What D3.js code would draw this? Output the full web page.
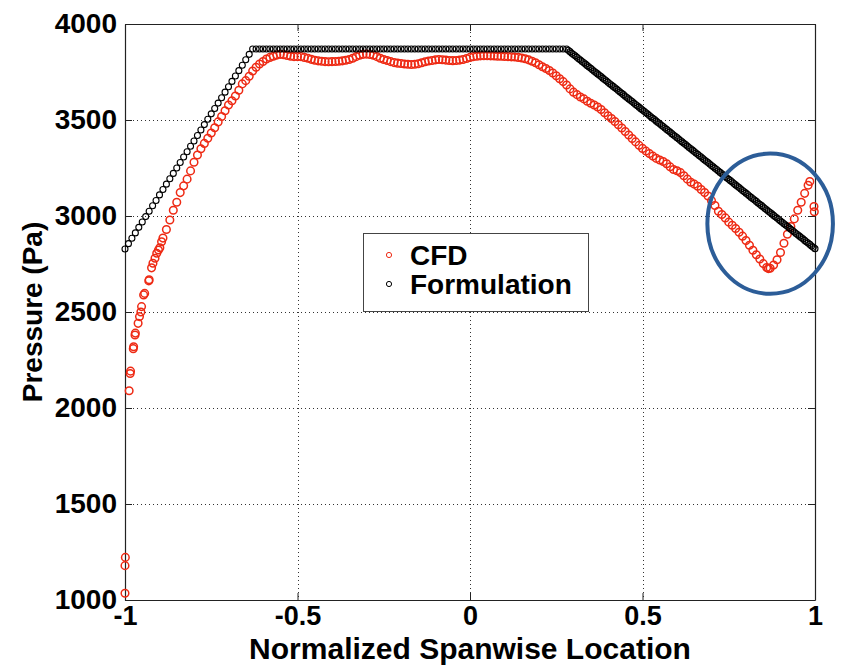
<!DOCTYPE html>
<html><head><meta charset="utf-8">
<script src="https://cdn.jsdelivr.net/npm/d3@7"></script>
<style>
body{margin:0;background:#fff}
svg{display:block}
text{font-family:"Liberation Sans",Arial,sans-serif;font-weight:bold;fill:#000}
</style>
</head><body>
<svg id="chart" width="843" height="666"></svg>
<script>
// ---------- data ----------
const xTicks = [-1, -0.5, 0, 0.5, 1];
const xTickLabels = ["-1", "-0.5", "0", "0.5", "1"];
const yTicks = [1000, 1500, 2000, 2500, 3000, 3500, 4000];
const yTickLabels = ["1000", "1500", "2000", "2500", "3000", "3500", "4000"];
const seriesNames = ["CFD", "Formulation"];
const xTitle = "Normalized Spanwise Location";
const yTitle = "Pressure (Pa)";

// Formulation, left part: x = -1 .. 0.28 every 0.01
const formLeftStart = -1, formLeftStep = 0.01;
const formLeftP = [
 2828,2856,2884,2912,2941,2969,2997,3025,3053,3081,
 3110,3138,3166,3194,3222,3250,3279,3307,3335,3363,
 3391,3419,3448,3476,3504,3532,3560,3588,3616,3645,
 3673,3701,3729,3757,3785,3814,3842,
 3870,3870,3870,3870,3870,3870,3870,3870,3870,3870,
 3870,3870,3870,3870,3870,3870,3870,3870,3870,3870,
 3870,3870,3870,3870,3870,3870,3870,3870,3870,3870,
 3870,3870,3870,3870,3870,3870,3870,3870,3870,3870,
 3870,3870,3870,3870,3870,3870,3870,3870,3870,3870,
 3870,3870,3870,3870,3870,3870,3870,3870,3870,3870,
 3870,3870,3870,3870,3870,3870,3870,3870,3870,3870,
 3870,3870,3870,3870,3870,3870,3870,3870,3870,3870,
 3870,3870,3870,3870,3870,3870,3870,3870,3870,3870,
 3870,3870
];
// Formulation, right part: x = 0.285 .. 1 every 0.005
const formRightStart = 0.285, formRightStep = 0.005;
const formRightP = [
 3863,3856,3848,3841,3834,3827,3819,3812,3805,3798,
 3791,3783,3776,3769,3762,3754,3747,3740,3733,3726,
 3718,3711,3704,3697,3689,3682,3675,3668,3661,3653,
 3646,3639,3632,3624,3617,3610,3603,3596,3588,3581,
 3574,3567,3559,3552,3545,3538,3531,3523,3516,3509,
 3502,3494,3487,3480,3473,3466,3458,3451,3444,3437,
 3429,3422,3415,3408,3401,3393,3386,3379,3372,3364,
 3357,3350,3343,3336,3328,3321,3314,3307,3299,3292,
 3285,3278,3271,3263,3256,3249,3242,3234,3227,3220,
 3213,3206,3198,3191,3184,3177,3169,3162,3155,3148,
 3141,3133,3126,3119,3112,3104,3097,3090,3083,3076,
 3068,3061,3054,3047,3039,3032,3025,3018,3011,3003,
 2996,2989,2982,2974,2967,2960,2953,2946,2938,2931,
 2924,2917,2909,2902,2895,2888,2881,2873,2866,2859,
 2852,2844,2837,2830
];

// CFD samples
const cfdX = [
 -1.000,-1.000,-0.999,-0.988,-0.985,-0.984,-0.976,-0.975,-0.971,-0.970,
 -0.962,-0.958,-0.954,-0.952,-0.946,-0.943,-0.931,-0.930,-0.923,-0.919,
 -0.913,-0.908,-0.903,-0.899,-0.894,
 -0.89,-0.88,-0.87,-0.86,-0.85,-0.84,-0.83,-0.82,-0.81,-0.80,
 -0.79,-0.78,-0.77,-0.76,-0.75,-0.74,-0.73,-0.72,-0.71,-0.70,
 -0.69,-0.68,-0.67,-0.66,-0.65,-0.64,-0.63,-0.62,-0.61,-0.60,
 -0.59,-0.58,-0.57,-0.56,-0.55,-0.54,-0.53,-0.52,-0.51,-0.50,
 -0.49,-0.48,-0.47,-0.46,-0.45,-0.44,-0.43,-0.42,-0.41,-0.40,
 -0.39,-0.38,-0.37,-0.36,-0.35,-0.34,-0.33,-0.32,-0.31,-0.30,
 -0.29,-0.28,-0.27,-0.26,-0.25,-0.24,-0.23,-0.22,-0.21,-0.20,
 -0.19,-0.18,-0.17,-0.16,-0.15,-0.14,-0.13,-0.12,-0.11,-0.10,
 -0.09,-0.08,-0.07,-0.06,-0.05,-0.04,-0.03,-0.02,-0.01,0.00,
 0.01,0.02,0.03,0.04,0.05,0.06,0.07,0.08,0.09,0.10,
 0.11,0.12,0.13,0.14,0.15,0.16,0.17,0.18,0.19,0.20,
 0.21,0.22,0.23,0.24,0.25,0.26,0.27,0.28,0.29,0.30,
 0.31,0.32,0.33,0.34,0.35,0.36,0.37,0.38,0.39,0.40,
 0.41,0.42,0.43,0.44,0.45,0.46,0.47,0.48,0.49,0.50,
 0.51,0.52,0.53,0.54,0.55,0.56,0.57,0.58,0.59,0.60,
 0.61,0.62,0.63,0.64,0.65,0.66,0.67,0.68,0.69,0.70,
 0.71,0.72,0.73,0.74,0.75,0.76,0.77,0.78,0.79,0.80,
 0.81,0.82,0.83,0.84,0.85,0.86,0.865,0.87,0.88,0.89,
 0.90,0.91,0.92,0.93,0.94,0.95,0.96,0.97,0.98,0.985,
 0.997,0.998
];
const cfdP = [
 1035,1179,1222,2090,2180,2192,2309,2319,2380,2390,
 2441,2476,2500,2528,2589,2597,2662,2668,2730,2754,
 2780,2806,2823,2835,2866,
 2885,2930,2979,3030,3072,3122,3157,3192,3235,3280,
 3318,3350,3378,3405,3432,3460,3490,3518,3548,3578,
 3600,3625,3655,3688,3705,3728,3755,3775,3792,3805,
 3818,3826,3832,3838,3842,3840,3836,3832,3830,3830,
 3830,3826,3822,3816,3811,3808,3806,3804,3803,3804,
 3805,3806,3808,3811,3815,3822,3830,3837,3842,3843,
 3841,3837,3830,3822,3815,3810,3804,3799,3796,3794,
 3792,3790,3789,3790,3793,3798,3803,3807,3810,3813,
 3815,3814,3812,3810,3809,3810,3812,3815,3820,3826,
 3830,3832,3834,3835,3835,3834,3833,3832,3832,3831,
 3830,3829,3828,3826,3823,3819,3813,3806,3798,3788,
 3777,3768,3758,3745,3730,3715,3700,3682,3662,3645,
 3632,3620,3610,3598,3587,3578,3568,3555,3538,3522,
 3508,3492,3475,3458,3440,3422,3404,3386,3368,3352,
 3338,3325,3312,3300,3292,3284,3272,3256,3242,3236,
 3226,3210,3192,3176,3166,3155,3138,3122,3104,3080,
 3055,3025,3008,2990,2968,2952,2935,2915,2895,2872,
 2848,2822,2798,2776,2752,2732,2726,2728,2745,2772,
 2810,2858,2905,2945,2985,3030,3072,3118,3160,3180,
 3049,3022
];

// highlighted region (blue ellipse), in data units
const highlight = {x: 0.87, p: 2960, rx: 0.182, rp: 365};

// ---------- drawing ----------
const svg = d3.select("#chart");
const W = 843, H = 666;
svg.append("rect").attr("width", W).attr("height", H).attr("fill", "#fff");

const L = 125, R = 815, T = 24, B = 600;
const x = d3.scaleLinear().domain([-1, 1]).range([L, R]);
const y = d3.scaleLinear().domain([1000, 4000]).range([B, T]);

const RED = "#ee2a14";
const BLK = "#000";

// grid
const grid = svg.append("g").attr("stroke", "#333").attr("stroke-width", 1).attr("stroke-dasharray", "1,3");
grid.selectAll("line.gx").data(xTicks.slice(1, -1)).join("line")
  .attr("x1", d => Math.round(x(d)) + 0.5).attr("x2", d => Math.round(x(d)) + 0.5)
  .attr("y1", T).attr("y2", B);
grid.selectAll("line.gy").data(yTicks.slice(1, -1)).join("line")
  .attr("y1", d => Math.round(y(d)) + 0.5).attr("y2", d => Math.round(y(d)) + 0.5)
  .attr("x1", L).attr("x2", R);

// axes
const tickLen = 7;
const axB = svg.append("g").attr("transform", `translate(0,${B})`)
  .call(d3.axisBottom(x).tickValues(xTicks).tickFormat((d, i) => xTickLabels[i]).tickSizeInner(-tickLen).tickSizeOuter(0).tickPadding(8));
const axT = svg.append("g").attr("transform", `translate(0,${T})`)
  .call(d3.axisTop(x).tickValues(xTicks).tickFormat("").tickSizeInner(-tickLen).tickSizeOuter(0));
const axL = svg.append("g").attr("transform", `translate(${L},0)`)
  .call(d3.axisLeft(y).tickValues(yTicks).tickFormat((d, i) => yTickLabels[i]).tickSizeInner(-tickLen).tickSizeOuter(0).tickPadding(8));
const axR = svg.append("g").attr("transform", `translate(${R},0)`)
  .call(d3.axisRight(y).tickValues(yTicks).tickFormat("").tickSizeInner(-tickLen).tickSizeOuter(0));
[axB, axT, axL, axR].forEach(a => {
  a.select(".domain").attr("stroke", "#222").attr("stroke-width", 1.2);
  a.selectAll(".tick line").attr("stroke", "#222");
  a.selectAll("text").attr("font-size", 28).attr("font-family", '"Liberation Sans",Arial,sans-serif').attr("font-weight", "bold").attr("fill", "#000");
});
axB.selectAll("text").attr("font-size", 27).attr("dy", "0.62em");

// CFD markers
svg.append("g").selectAll("circle").data(cfdX.map((v, i) => [v, cfdP[i]])).join("circle")
  .attr("cx", d => x(d[0])).attr("cy", d => y(d[1])).attr("r", 3.8)
  .attr("fill", "none").attr("stroke", RED).attr("stroke-width", 1.5);

// Formulation markers
const formPts = formLeftP.map((v, i) => [formLeftStart + formLeftStep * i, v])
  .concat(formRightP.map((v, i) => [formRightStart + formRightStep * i, v]));
svg.append("g").selectAll("circle").data(formPts).join("circle")
  .attr("cx", d => x(d[0])).attr("cy", d => y(d[1])).attr("r", 3.0)
  .attr("fill", "none").attr("stroke", BLK).attr("stroke-width", 1.1);

// highlight ellipse
svg.append("ellipse")
  .attr("cx", x(highlight.x)).attr("cy", y(highlight.p))
  .attr("rx", x(highlight.x + highlight.rx) - x(highlight.x))
  .attr("ry", y(highlight.p - highlight.rp) - y(highlight.p))
  .attr("fill", "none").attr("stroke", "#2c5d98").attr("stroke-width", 4);

// legend
const lg = svg.append("g");
lg.append("rect").attr("x", 363.5).attr("y", 233.5).attr("width", 225).attr("height", 78)
  .attr("fill", "#fff").attr("stroke", "#444").attr("stroke-width", 1);
const lgItems = [{name: seriesNames[0], color: RED, cy: 255}, {name: seriesNames[1], color: BLK, cy: 284}];
lgItems.forEach(it => {
  lg.append("circle").attr("cx", 389).attr("cy", it.cy).attr("r", 2.6)
    .attr("fill", "none").attr("stroke", it.color).attr("stroke-width", 1);
  lg.append("text").attr("x", 410).attr("y", it.cy + 10).attr("font-size", 28).text(it.name);
});

// titles
svg.append("text").attr("x", (L + R) / 2).attr("y", 659).attr("text-anchor", "middle")
  .attr("font-size", 30).text(xTitle);
svg.append("text").attr("transform", `translate(42,${(T + B) / 2}) rotate(-90)`)
  .attr("text-anchor", "middle").attr("font-size", 28).text(yTitle);
</script>
</body></html>
